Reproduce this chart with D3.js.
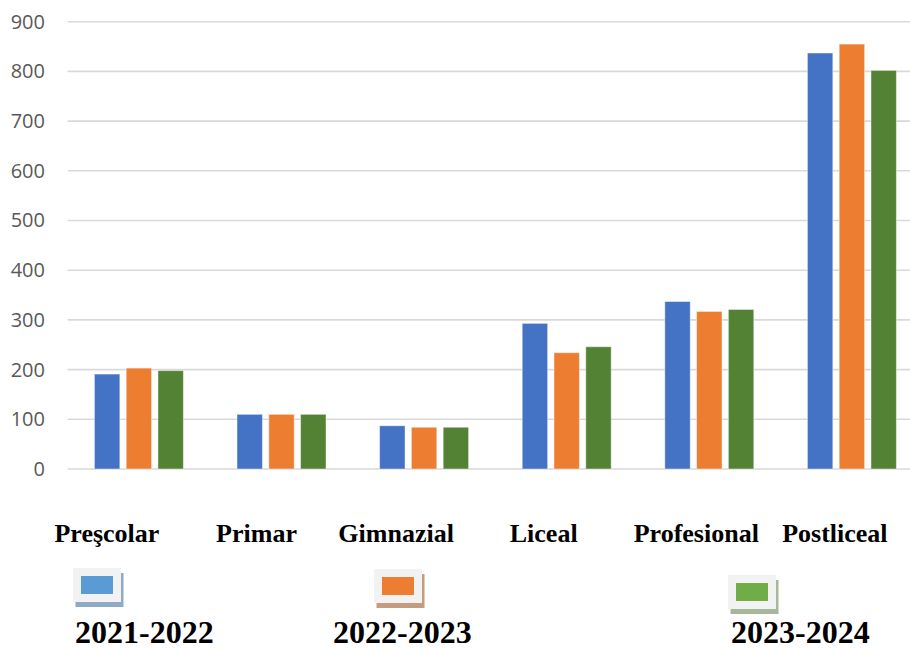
<!DOCTYPE html>
<html>
<head>
<meta charset="utf-8">
<script src="https://cdn.jsdelivr.net/npm/d3@7"></script>
<style>
  body { margin: 0; background: #fff; }
  svg { display: block; }
</style>
</head>
<body>
<div id="chart"></div>
<script>
// data
var categories = ['Preşcolar', 'Primar', 'Gimnazial', 'Liceal', 'Profesional', 'Postliceal'];
var seriesNames = ['2021-2022', '2022-2023', '2023-2024'];
var values2021 = [191, 110, 87, 293, 337, 837];
var values2022 = [203, 110, 84, 234, 317, 855];
var values2023 = [198, 110, 84, 246, 321, 802];
var yTicks = [0, 100, 200, 300, 400, 500, 600, 700, 800, 900];

var seriesValues = [values2021, values2022, values2023];

// styles / layout
var barColors = ['#4472C4', '#ED7D31', '#548235'];
var legendColors = ['#5B9BD5', '#ED7D31', '#70AD47'];
var shadowColors = ['#8eaac4', '#c59c80', '#a7b79a'];
var labelNudge = [-32, -25, -28, -23, -13, -17];
var legendBox = [[73, 568], [374, 569], [728, 575]];
var legendText = [75, 333, 731];

var width = 910, height = 650;

var svg = d3.select('#chart').append('svg')
  .attr('width', width)
  .attr('height', height);

var x0 = d3.scaleBand()
  .domain(categories)
  .range([67.6, 923.2])
  .paddingInner(0.376)
  .paddingOuter(0.188);

var x1 = d3.scaleBand()
  .domain(seriesNames)
  .range([0, x0.bandwidth()])
  .paddingInner(0.2)
  .paddingOuter(0);

var y = d3.scaleLinear()
  .domain([0, 900])
  .range([469, 21.7]);

// gridlines
svg.append('g').selectAll('line')
  .data(yTicks)
  .join('line')
  .attr('x1', 67.6)
  .attr('x2', width)
  .attr('y1', d => y(d))
  .attr('y2', d => y(d))
  .attr('stroke', '#d9d9d9')
  .attr('stroke-width', 1.6);

// y axis labels
var yAxis = svg.append('g')
  .attr('transform', 'translate(45,0)')
  .call(d3.axisLeft(y).tickValues(yTicks).tickSize(0).tickPadding(0));
yAxis.select('.domain').remove();
yAxis.selectAll('text')
  .attr('font-family', '"Open Sans", sans-serif')
  .attr('font-size', 20)
  .attr('fill', '#595959');

// bars
var groups = svg.append('g').selectAll('g')
  .data(categories)
  .join('g')
  .attr('transform', d => 'translate(' + x0(d) + ',0)');

groups.selectAll('rect')
  .data((d, i) => seriesNames.map((s, j) => ({ s: s, j: j, v: seriesValues[j][i] })))
  .join('rect')
  .attr('x', d => x1(d.s))
  .attr('width', x1.bandwidth())
  .attr('y', d => y(d.v))
  .attr('height', d => y(0) - y(d.v))
  .attr('fill', d => barColors[d.j])
  .attr('stroke', '#ffffff')
  .attr('stroke-opacity', 0.45)
  .attr('stroke-width', 1);

// category labels
svg.append('g').selectAll('text')
  .data(categories)
  .join('text')
  .attr('x', (d, i) => x0(d) + x0.bandwidth() / 2 + labelNudge[i])
  .attr('y', 542)
  .attr('text-anchor', 'middle')
  .attr('font-family', '"Liberation Serif", "Times New Roman", serif')
  .attr('font-weight', 'bold')
  .attr('font-size', 26)
  .attr('fill', '#000')
  .text(d => d);

// legend
var legend = svg.append('g').selectAll('g')
  .data(seriesNames)
  .join('g');

legend.append('rect')
  .attr('x', (d, i) => legendBox[i][0] + 2.5)
  .attr('y', (d, i) => legendBox[i][1] + 5)
  .attr('width', 48)
  .attr('height', 34)
  .attr('fill', (d, i) => shadowColors[i]);

legend.append('rect')
  .attr('x', (d, i) => legendBox[i][0])
  .attr('y', (d, i) => legendBox[i][1])
  .attr('width', 48)
  .attr('height', 34)
  .attr('fill', '#f2f2f2');

legend.append('rect')
  .attr('x', (d, i) => legendBox[i][0] + 8)
  .attr('y', (d, i) => legendBox[i][1] + 8)
  .attr('width', 32)
  .attr('height', 18)
  .attr('fill', (d, i) => legendColors[i]);

legend.append('text')
  .attr('x', (d, i) => legendText[i])
  .attr('y', 643)
  .attr('font-family', '"Liberation Serif", "Times New Roman", serif')
  .attr('font-weight', 'bold')
  .attr('font-size', 32)
  .attr('fill', '#000')
  .text(d => d);
</script>
</body>
</html>
